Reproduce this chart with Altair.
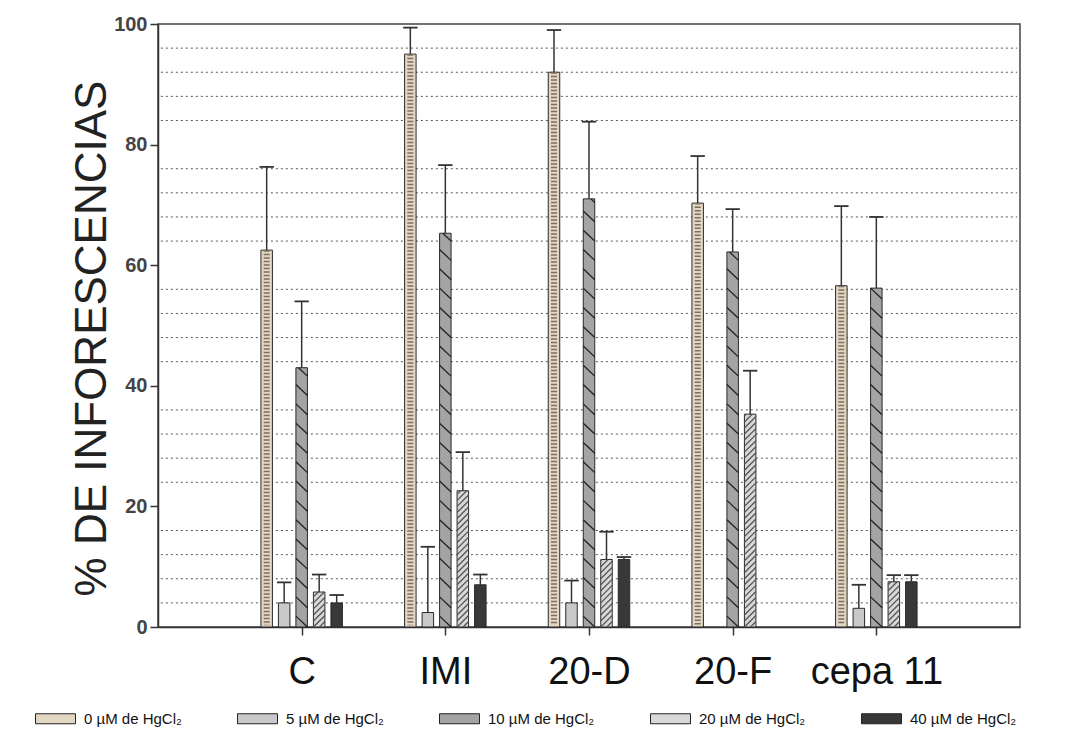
import altair as alt
import pandas as pd

# ---- data ----
groups = ["C", "IMI", "20-D", "20-F", "cepa 11"]
series = ["0 µM de HgCl₂", "5 µM de HgCl₂", "10 µM de HgCl₂", "20 µM de HgCl₂", "40 µM de HgCl₂"]
mean_0 = [62.5, 95.0, 92.0, 70.3, 56.6]
err_0 = [13.8, 4.4, 7.0, 7.8, 13.2]
mean_5 = [4.0, 2.4, 4.0, None, 3.1]
err_5 = [3.4, 10.9, 3.7, None, 3.9]
mean_10 = [43.0, 65.3, 71.0, 62.2, 56.2]
err_10 = [11.0, 11.3, 12.8, 7.1, 11.8]
mean_20 = [5.8, 22.6, 11.2, 35.3, 7.5]
err_20 = [2.9, 6.4, 4.6, 7.2, 1.1]
mean_40 = [4.0, 7.0, 11.2, None, 7.5]
err_40 = [1.3, 1.7, 0.4, None, 1.1]
y_ticks = [0, 20, 40, 60, 80, 100]
minor_grid = [v for v in range(4, 100, 4) if v % 20]

fills = ["#e3d7c4", "#c9c9c9", "#a4a4a4", "#d8d8d8", "#383838"]

# ---- layout in x data units (domain 0..6, groups at 1..5) ----
STEP = 0.1218
HALF = 0.040
CAP = 0.050

means = [mean_0, mean_5, mean_10, mean_20, mean_40]
errs = [err_0, err_5, err_10, err_20, err_40]

rows = []
for gi, g in enumerate(groups):
    for si, s in enumerate(series):
        m = means[si][gi]
        if m is None:
            continue
        e = errs[si][gi]
        xc = gi + 1 + (si - 2) * STEP
        rows.append(dict(group=g, series=s, mean=m, upper=m + e, xc=xc,
                         xl=xc - HALF, xr=xc + HALF, cl=xc - CAP, cr=xc + CAP))
df = pd.DataFrame(rows)


def clip_seg(x1, y1, x2, y2, lo, hi):
    def interp(yv):
        t = (yv - y1) / (y2 - y1)
        return (x1 + t * (x2 - x1), yv)
    ax, ay, bx, by = x1, y1, x2, y2
    if max(ay, by) < lo or min(ay, by) > hi:
        return None
    if ay < lo:
        ax, ay = interp(lo)
    if by < lo:
        bx, by = interp(lo)
    if ay > hi:
        ax, ay = interp(hi)
    if by > hi:
        bx, by = interp(hi)
    return ax, ay, bx, by


hatch = []
for r in rows:
    if r["series"] == series[2]:
        sp, d, sign = 3.2, 1.8, -1   # "\" lines
    elif r["series"] == series[3]:
        sp, d, sign = 1.0, 1.9, 1    # "/" lines
    else:
        continue
    k = -2
    while k * sp <= r["mean"] + 2:
        base = k * sp
        if sign < 0:
            seg = clip_seg(r["xl"], base + d, r["xr"], base, 0, r["mean"])
        else:
            seg = clip_seg(r["xl"], base, r["xr"], base + d, 0, r["mean"])
        if seg:
            hatch.append(dict(series=r["series"], hx=seg[0], hy=seg[1], hx2=seg[2], hy2=seg[3]))
        k += 1
hatch_df = pd.DataFrame(hatch)

grid_df = pd.DataFrame({"g": minor_grid})

xscale = alt.Scale(domain=[0, 6], nice=False, zero=False)
yscale = alt.Scale(domain=[0, 100], nice=False)

label_expr = "[" + ",".join(f"'{g}'" for g in groups) + "][datum.value - 1]"

xaxis = alt.Axis(values=[1, 2, 3, 4, 5], labelExpr=label_expr, title=None,
                 tickSize=8, labelFontSize=38, labelColor="#111", labelPadding=18,
                 labelFont="Liberation Sans", grid=False)
yaxis = alt.Axis(values=y_ticks, tickSize=8, labelFontSize=20, labelColor="#444",
                 labelFontWeight="bold", labelPadding=3, grid=False,
                 title="% DE INFORESCENCIAS", titleFontSize=44, titleFontWeight="normal",
                 titleColor="#222", titleFont="Liberation Sans",
                 titleAngle=270, titleAlign="center", titleBaseline="alphabetic",
                 titleX=-53, titleY=314)

grid = alt.Chart(grid_df).mark_rule(color="#555", strokeWidth=1, strokeDash=[2, 3]).encode(
    y=alt.Y("g:Q", scale=yscale, axis=yaxis),
    x=alt.datum(0.02, scale=xscale), x2=alt.datum(5.98)
)

bars = alt.Chart(df).mark_rect(stroke="#2a2a2a", strokeWidth=1).encode(
    x=alt.X("xl:Q", scale=xscale, axis=xaxis),
    x2="xr:Q",
    y=alt.Y("mean:Q", scale=yscale),
    y2=alt.datum(0),
    fill=alt.Fill("series:N", scale=alt.Scale(domain=series, range=fills),
                  legend=alt.Legend(title=None, orient="none", legendX=-123, legendY=674,
                                    direction="horizontal",
                                    symbolType="M-1,-0.25L1,-0.25L1,0.25L-1,0.25Z",
                                    symbolSize=1600, symbolStrokeColor="#222",
                                    symbolStrokeWidth=1, symbolOpacity=1,
                                    labelFontSize=15, labelColor="#111", labelOffset=8,
                                    columnPadding=53, labelLimit=300,
                                    labelFont="Liberation Sans")),
)

dots = alt.Chart(df).transform_filter(alt.datum.series == series[0]).mark_rule(
    color="#7d6f60", strokeWidth=6, strokeDash=[1.5, 2]).encode(
    x=alt.X("xc:Q", scale=xscale), y=alt.Y("mean:Q", scale=yscale), y2=alt.datum(0.3)
)

hatch_layer = alt.Chart(hatch_df).mark_rule(strokeWidth=1.3).encode(
    x=alt.X("hx:Q", scale=xscale), y=alt.Y("hy:Q", scale=yscale),
    x2="hx2:Q", y2="hy2:Q",
    color=alt.Color("series:N", scale=alt.Scale(domain=[series[2], series[3]],
                                                  range=["#222222", "#555555"]), legend=None)
)

err_v = alt.Chart(df).mark_rule(color="#333", strokeWidth=1.5).encode(
    x=alt.X("xc:Q", scale=xscale), y=alt.Y("mean:Q", scale=yscale), y2="upper:Q"
)
err_cap = alt.Chart(df).mark_rule(color="#333", strokeWidth=1.8).encode(
    x=alt.X("cl:Q", scale=xscale), x2="cr:Q", y=alt.Y("upper:Q", scale=yscale)
)

chart = alt.layer(grid, bars, dots, hatch_layer, err_v, err_cap).resolve_scale(
    color="independent", fill="independent"
).properties(
    width=862, height=603,
    autosize=alt.AutoSizeParams(type="none"),
    padding={"left": 158, "top": 24, "right": 60, "bottom": 115},
).configure(font="Liberation Sans").configure_axis(
    domainColor="#333", domainWidth=1.5, tickColor="#333", tickWidth=1.5
).configure_view(stroke="#444", strokeWidth=1.5)

chart.save("out.html", embed_options={"renderer": "svg", "actions": False})
